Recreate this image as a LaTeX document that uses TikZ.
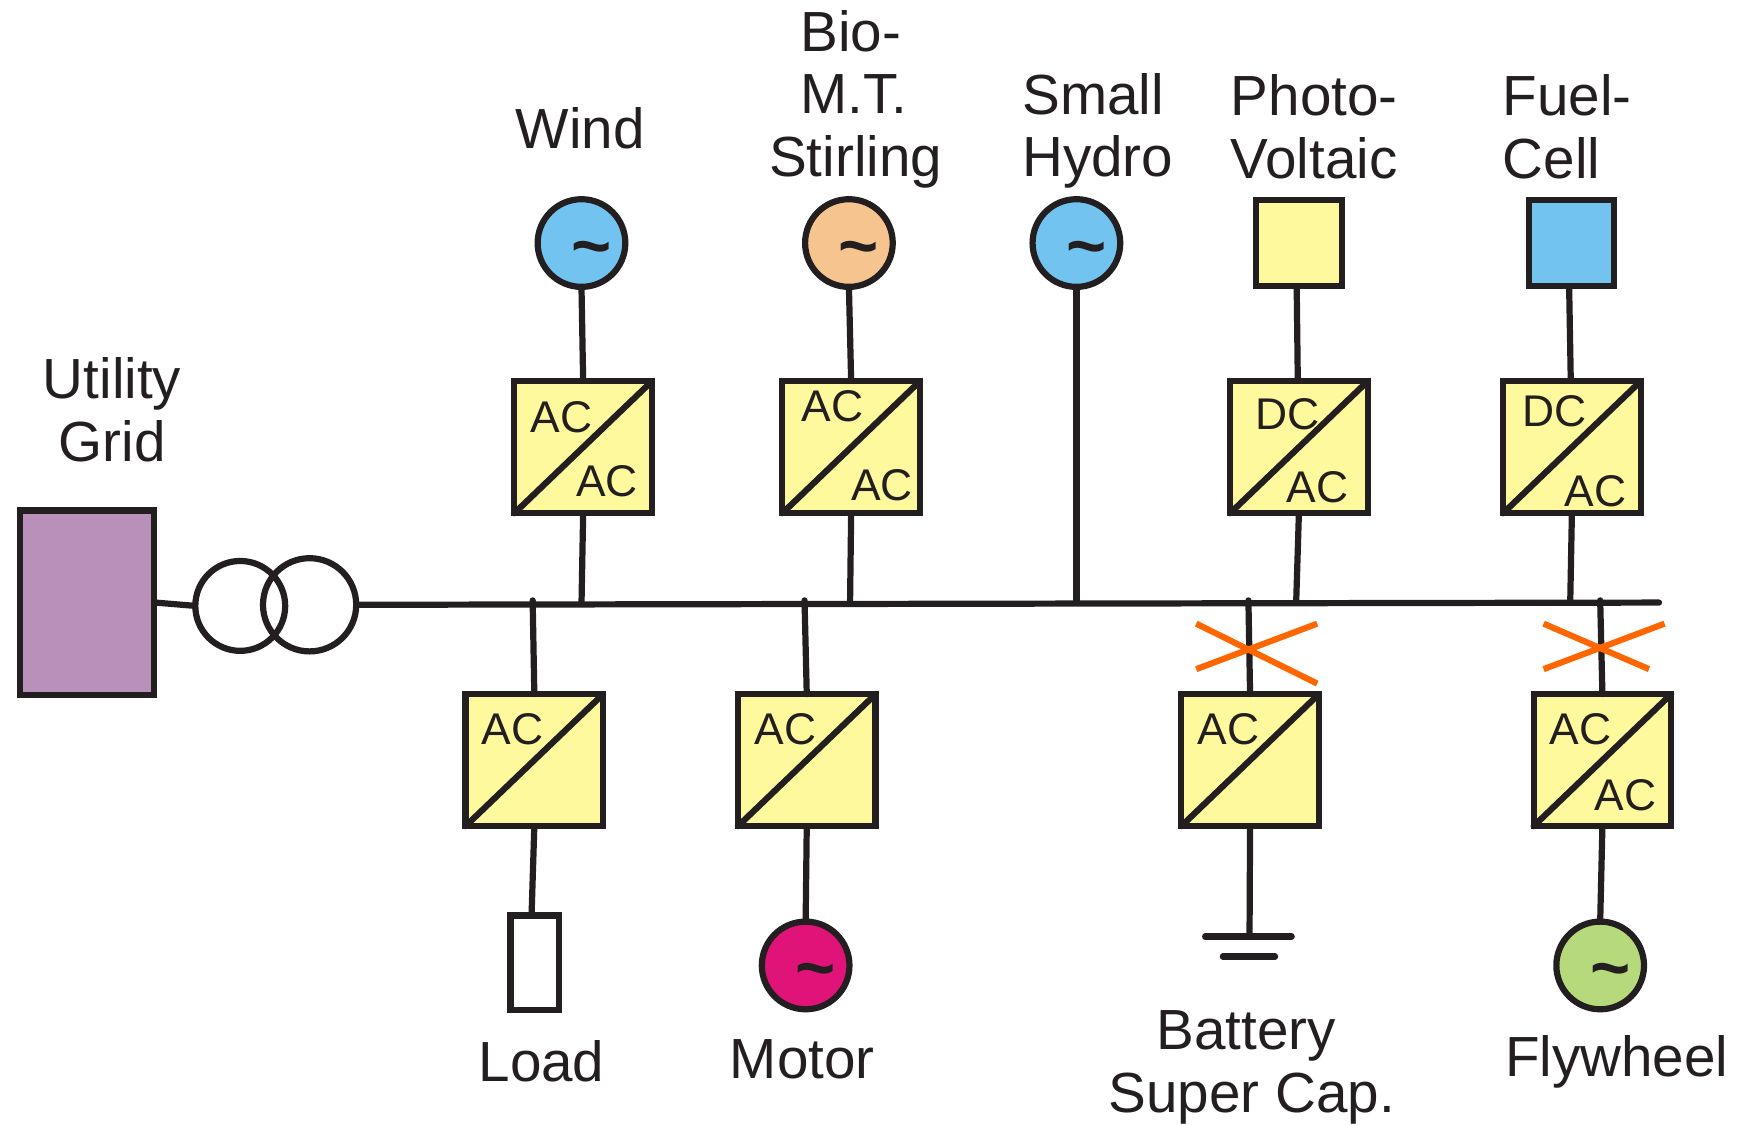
\documentclass[tikz,border=0pt]{standalone}
\usepackage{fontspec}
\setmainfont{Liberation Sans}
\definecolor{ink}{HTML}{231F20}
\definecolor{convy}{HTML}{FFF99D}
\definecolor{gridp}{HTML}{B990B9}
\definecolor{skyb}{HTML}{72C3EF}
\definecolor{peach}{HTML}{F6C48F}
\definecolor{magen}{HTML}{DF1378}
\definecolor{leaf}{HTML}{B6DA7B}
\definecolor{brk}{HTML}{FF6600}
\tikzset{
  conv/.style={draw=ink,fill=convy,line width=5.6pt,minimum width=124pt,minimum height=119pt,inner sep=0pt,outer sep=0pt},
  src/.style={circle,draw=ink,line width=5.6pt,minimum size=79pt,inner sep=0pt,outer sep=0pt},
  sq/.style={draw=ink,line width=5.6pt,minimum size=77pt,inner sep=0pt,outer sep=0pt},
  wire/.style={draw=ink,line width=5.6pt,line cap=round},
  brkline/.style={draw=brk,line width=5.5pt},
  big/.style={text=ink,inner sep=0pt,anchor=base,font=\fontsize{51}{56.5}\selectfont},
  bigm/.style={text=ink,inner sep=0pt,align=left,font=\fontsize{51}{56.5}\selectfont},
  bigc/.style={text=ink,inner sep=0pt,align=center,font=\fontsize{51}{56.5}\selectfont},
  small/.style={text=ink,inner sep=0pt,anchor=base,font=\fontsize{40}{46}\selectfont},
  tld/.style={text=ink,inner sep=0pt,font=\fontsize{62}{62}\selectfont\bfseries},
}
\begin{document}
\begin{tikzpicture}[x=1pt,y=-1pt]
\useasboundingbox (0,0) rectangle (1568,1013);
% bus coordinates
\coordinate (busL) at (322,545);
\coordinate (busR) at (1495,543);
\coordinate (tW) at (524,545);
\coordinate (tM) at (766,545);
\coordinate (tH) at (970,544);
\coordinate (tP) at (1168,544);
\coordinate (tF) at (1415,543);
\coordinate (tLd) at (480,541);
\coordinate (tMo) at (725,541);
\coordinate (tB) at (1125,541);
\coordinate (tFw) at (1442,541);
% grid and transformer
\node[draw=ink,fill=gridp,line width=5.6pt,minimum width=121pt,minimum height=166pt,inner sep=0pt,outer sep=0pt] (grid) at (78.5,543) {};
\node[circle,draw=ink,line width=5.6pt,minimum size=81pt,inner sep=0pt,outer sep=0pt] (tr1) at (216.5,546) {};
\node[circle,draw=ink,line width=5.6pt,minimum size=84pt,inner sep=0pt,outer sep=0pt] (tr2) at (279,545) {};
\draw[wire,line cap=butt] (140,543) -- (tr1.west);
\draw[wire] (busL) -- (busR);
% sources
\node[src,fill=skyb] (wind) at (524,219) {};
\node[src,fill=peach] (biomt) at (765,219) {};
\node[src,fill=skyb] (hydro) at (970,219) {};
\node[sq,fill=convy] (pv) at (1170.5,219) {};
\node[sq,fill=skyb] (fc) at (1416,219) {};
% converters
\node[conv] (cW) at (525.5,403) {};
\node[conv] (cM) at (767,403) {};
\node[conv] (cP) at (1170.5,403) {};
\node[conv] (cF) at (1416.5,403) {};
\node[conv] (cLd) at (481.5,685) {};
\node[conv] (cMo) at (727,685) {};
\node[conv] (cB) at (1126.5,685) {};
\node[conv] (cFw) at (1444,685) {};
\foreach \c in {cW,cM,cP,cF,cLd,cMo,cB,cFw}
  \draw[wire] (\c.south west) -- (\c.north east);
% loads
\node[draw=ink,fill=white,line width=5.6pt,minimum width=44pt,minimum height=85pt,inner sep=0pt,outer sep=0pt] (load) at (482,867.5) {};
\node[src,fill=magen] (motor) at (726,870) {};
\node[src,fill=leaf] (fly) at (1442,870) {};
\coordinate (gA) at (1086,844);
\coordinate (gB) at (1164,844);
\coordinate (gC) at (1102,862);
\coordinate (gD) at (1149,862);
\coordinate (gT) at (1126,844);
\draw[wire] (gA) -- (gB);
\draw[wire] (gC) -- (gD);
% connectors
\draw[wire,line cap=butt] (wind.south) -- (cW.north);
\draw[wire,line cap=butt] (cW.south) -- (tW);
\draw[wire,line cap=butt] (biomt.south) -- (cM.north);
\draw[wire,line cap=butt] (cM.south) -- (tM);
\draw[wire,line cap=butt] (hydro.south) -- (tH);
\draw[wire,line cap=butt] ([xshift=-2pt]pv.south) -- ([xshift=-1pt]cP.north);
\draw[wire,line cap=butt] (cP.south) -- (tP);
\draw[wire,line cap=butt] ([xshift=-2pt]fc.south) -- ([xshift=-1pt]cF.north);
\draw[wire,line cap=butt] (cF.south) -- (tF);
\draw[wire] (tLd) -- (cLd.north);
\draw[wire,line cap=butt] (cLd.south) -- ([xshift=-3pt]load.north);
\draw[wire] (tMo) -- (cMo.north);
\draw[wire,line cap=butt] (cMo.south) -- (motor.north);
\draw[wire] (tB) -- (cB.north);
\draw[wire] (cB.south) -- (gT);
\draw[wire] (tFw) -- (cFw.north);
\draw[wire,line cap=butt] (cFw.south) -- (fly.north);
% breakers
\coordinate (x1a) at (1078,562); \coordinate (x1b) at (1187,616);
\coordinate (x1c) at (1078,603); \coordinate (x1d) at (1187,562);
\coordinate (x2a) at (1391,562); \coordinate (x2b) at (1486,603);
\coordinate (x2c) at (1391,603); \coordinate (x2d) at (1500,562);
\draw[brkline] (x1a) -- (x1b);
\draw[brkline] (x1c) -- (x1d);
\draw[brkline] (x2a) -- (x2b);
\draw[brkline] (x2c) -- (x2d);
% tildes
\node[tld] (tl1) at (533,230) {\char"007E};
\node[tld] (tl2) at (774,230) {\char"007E};
\node[tld] (tl3) at (979,230) {\char"007E};
\node[tld] (tl4) at (735,881) {\char"007E};
\node[tld] (tl5) at (1451,881) {\char"007E};
% converter labels
\node[small] (l1) at (506,390) {AC};
\node[small] (l2) at (547,447) {AC};
\node[small] (l3) at (750,380) {AC};
\node[small] (l4) at (795,451) {AC};
\node[small] (l5) at (1160,387) {DC};
\node[small] (l6) at (1187,453) {AC};
\node[small] (l7) at (1401,384) {DC};
\node[small] (l8) at (1438,456) {AC};
\node[small] (l9) at (462,671) {AC};
\node[small] (l10) at (708,671) {AC};
\node[small] (l11) at (1107,671) {AC};
\node[small] (l12) at (1424,671) {AC};
\node[small] (l13) at (1465,730) {AC};
% captions
\node[bigc] (capGrid) at (101,369) {Utility\\Grid};
\node[big] (capWind) at (523,134) {Wind};
\node[bigm,anchor=west] (capBio) at (693,89.5) {\hspace*{28pt}Bio-\\\hspace*{28pt}M.T.\\Stirling};
\node[bigm,anchor=west] (capHydro) at (921,118) {Small\\Hydro};
\node[bigm,anchor=west] (capPV) at (1109,114) {Photo-\\Voltaic};
\node[bigm,anchor=west] (capFC) at (1354,114) {Fuel-\\Cell};
\node[big] (capLoad) at (488,975) {Load};
\node[big] (capMotor) at (723,972) {Motor};
\node[bigc] (capBat) at (1128,962) {Battery\hspace*{10pt}\\Super Cap.};
\node[big] (capFly) at (1457,970) {Flywheel};
\end{tikzpicture}
\end{document}
